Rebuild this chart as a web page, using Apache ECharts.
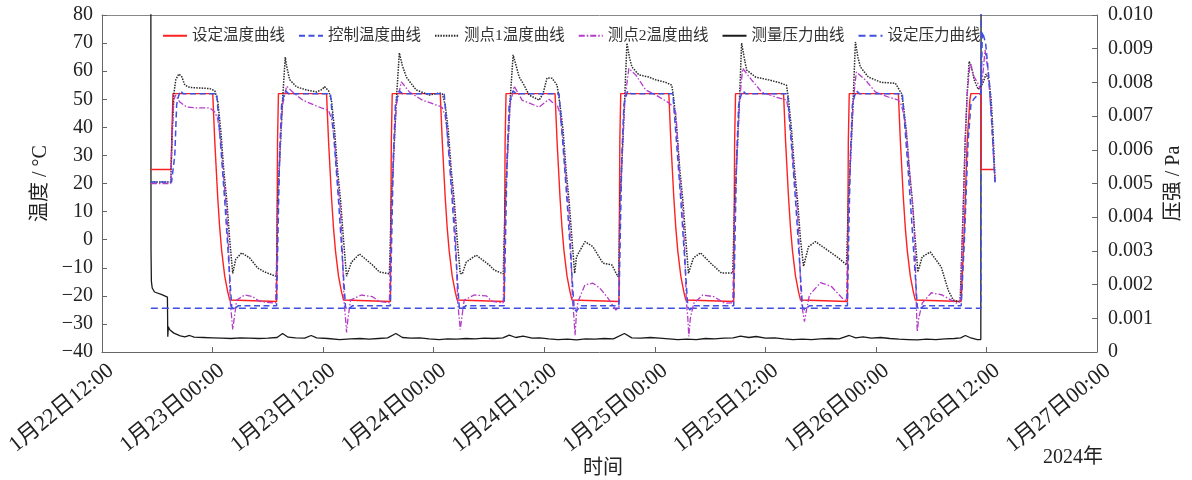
<!DOCTYPE html>
<html><head><meta charset="utf-8">
<script src="https://cdn.jsdelivr.net/npm/echarts@6/dist/echarts.min.js"></script>
<style>html,body{margin:0;padding:0;background:#fff}#c{width:1192px;height:480px}</style>
</head><body><div id="c"></div>
<script>
// x values: hours after 2024-01-22 12:00
const tickLabels = ['1月22日12:00','1月23日00:00','1月23日12:00','1月24日00:00','1月24日12:00','1月25日00:00','1月25日12:00','1月26日00:00','1月26日12:00','1月27日00:00'];

const setTemp = [[5.31,25],[7.5,25],[7.6,40],[7.7,52],
[12.02,52],[12.24,35],[12.40,25],[12.56,15],[12.78,4],[12.99,-4],[13.32,-13],[13.64,-18.5],[13.86,-21.5],[13.97,-22],
[18.95,-22],[19.05,35],[19.15,52],
[24.37,52],[24.59,35],[24.75,25],[24.91,15],[25.13,4],[25.34,-4],[25.67,-13],[25.99,-18.5],[26.21,-21.5],[26.32,-22],
[31.30,-22],[31.40,35],[31.50,52],
[36.71,52],[36.93,35],[37.09,25],[37.25,15],[37.47,4],[37.68,-4],[38.01,-13],[38.33,-18.5],[38.55,-21.5],[38.66,-22],
[43.65,-22],[43.75,35],[43.85,52],
[49.17,52],[49.39,35],[49.55,25],[49.71,15],[49.93,4],[50.14,-4],[50.47,-13],[50.79,-18.5],[51.01,-21.5],[51.12,-22],
[56.10,-22],[56.20,35],[56.30,52],
[61.52,52],[61.74,35],[61.90,25],[62.06,15],[62.28,4],[62.49,-4],[62.82,-13],[63.14,-18.5],[63.36,-21.5],[63.47,-22],
[68.56,-22],[68.66,35],[68.76,52],
[73.97,52],[74.19,35],[74.35,25],[74.51,15],[74.73,4],[74.94,-4],[75.27,-13],[75.59,-18.5],[75.81,-21.5],[75.92,-22],
[80.90,-22],[81.00,35],[81.10,52],
[86.43,52],[86.65,35],[86.81,25],[86.97,15],[87.19,4],[87.40,-4],[87.73,-13],[88.05,-18.5],[88.27,-21.5],[88.38,-22],
[93.25,-22],[93.6,5],[93.9,35],[94.2,50],[94.3,52],[95.40,52],[95.43,25],[96.93,25]];

const ctrlTemp = [[5.31,20.5],[7.55,20.5],[7.9,30],[8.1,48],[8.3,51],[8.5,53],[8.8,52],[12.45,52],
[12.78,38],[13.32,14],[14.08,-24],[14.29,-25],[14.8,-23.5],[18.95,-23.5],
[19.27,30],[19.49,48],[19.71,51],[19.92,53],[20.25,52],[24.80,52],
[25.13,38],[25.67,14],[26.43,-24],[26.64,-25],[27.2,-23.5],[31.30,-23.5],
[31.62,30],[31.84,48],[32.06,51],[32.27,53],[32.6,52],[37.14,52],
[37.47,38],[38.01,14],[38.77,-24],[38.98,-25],[39.5,-23.5],[43.65,-23.5],
[43.97,30],[44.19,48],[44.41,51],[44.62,53],[44.95,52],[49.60,52],
[49.93,38],[50.47,14],[51.23,-24],[51.44,-25.5],[52.0,-23.5],[56.10,-23.5],
[56.42,30],[56.64,48],[56.86,51],[57.07,53],[57.4,52],[61.95,52],
[62.28,38],[62.82,14],[63.58,-24],[63.79,-25],[64.3,-23.5],[68.56,-23.5],
[68.88,30],[69.10,48],[69.32,51],[69.53,53],[69.86,52],[74.40,52],
[74.73,38],[75.27,14],[76.03,-24],[76.24,-25],[76.8,-23.5],[80.90,-23.5],
[81.22,30],[81.44,48],[81.66,51],[81.87,53],[82.2,52],[86.86,52],
[87.19,38],[87.73,14],[88.49,-24],[88.70,-25],[89.2,-23.5],[93.25,-23.5],
[93.6,0],[94.0,35],[94.3,48],[94.6,50],[95.0,51.5],[95.40,52],[95.55,74],[95.9,70],[96.3,56],[96.6,40],[96.93,20]];

const probe1Temp = [[5.31,20.5],[7.47,20.5],[7.58,35],[7.80,52],[8.01,57],[8.34,59],[8.66,58],[8.99,55],[9.53,54.2],[10.61,54],[11.70,53.8],[12.24,53],[12.56,49.5],[12.89,39],[13.21,25],[13.54,14],[13.86,0],[14.19,-12],
[14.51,-7],[15.16,-4.7],[16.03,-6.5],[16.89,-10.1],[17.65,-11.5],[18.84,-13],
[18.95,-12],[19.06,14],[19.38,35],[19.60,50],[19.89,65],[20.03,62],[20.36,57],[20.79,55.5],[21.12,54.4],[22.20,53.3],[23.28,52.6],[23.90,53.5],[24.15,54.5],
[24.59,53],[24.91,49.5],[25.24,39],[25.56,25],[25.89,14],[26.21,0],[26.54,-13],
[27.08,-8],[27.94,-5.1],[29.35,-9],[30.11,-11.5],[31.19,-12.2],
[31.30,-12],[31.41,14],[31.73,35],[31.95,50],[32.27,66.5],[32.60,62],[33.03,57.9],[33.57,55.5],[34.11,53.3],[35.52,51.5],[36.61,52.2],
[36.93,52],[37.25,48],[37.58,39],[37.90,25],[38.23,14],[38.55,0],[38.88,-12],
[39.10,-12.2],[39.53,-8],[40.61,-5.5],[42.02,-9],[42.56,-10.8],[43.55,-12.2],
[43.65,-12],[43.76,14],[44.08,35],[44.30,50],[44.62,65.8],[44.94,62],[45.27,58],[45.81,55],[46.35,51.5],[47.44,49.7],[47.87,52],[48.30,57.6],[48.84,57.5],
[49.39,55],[49.71,48],[50.04,39],[50.36,25],[50.69,14],[51.01,0],[51.30,-12],
[51.50,-6.1],[52.42,-0.7],[53.28,-2.5],[53.83,-5.5],[54.37,-8.4],[55.34,-9],[55.99,-13.2],
[56.10,-12],[56.21,14],[56.53,35],[56.75,52],[56.97,70],[57.24,65],[57.51,61.5],[58.27,58.7],[59.35,57.9],[60.11,56.9],[61.19,56],[61.84,55],
[62.06,50],[62.39,39],[62.71,25],[63.04,14],[63.36,0],[63.65,-12],
[64.19,-6.5],[64.96,-4.7],[66.04,-8.3],[67.23,-11.9],[68.45,-11.9],
[68.56,-12],[68.67,14],[68.99,35],[69.21,52],[69.42,70],[69.69,65],[69.96,60.4],[70.94,57.9],[72.34,56.9],[73.43,56],[74.29,55],
[74.51,50],[74.84,39],[75.16,25],[75.49,14],[75.81,0],[76.14,-9.5],
[76.68,-2.5],[77.43,-0.7],[78.73,-3.7],[79.93,-6.5],[80.80,-9],
[80.90,-9],[81.01,14],[81.33,35],[81.55,52],[81.77,70.4],[82.04,65],[82.31,61.5],[83.17,57.9],[84.58,56],[86.10,55.7],[86.75,52.2],
[86.97,48],[87.29,39],[87.61,25],[87.94,14],[88.26,0],[88.55,-11.5],
[89.02,-6.1],[89.89,-4.4],[91.08,-9.7],[91.84,-18],[92.38,-21.5],[93.14,-22.2],
[93.25,-22],[93.46,10],[93.68,35],[93.90,52],[94.11,63.5],[94.33,62],[94.65,57],[95.09,53.5],[95.41,54.5],[95.63,56],[95.95,59],[96.28,56.5],[96.50,50],[96.71,38],[96.93,21]];

const probe2Temp = [[5.31,20],[7.47,20],[7.58,35],[7.80,50],[8.01,51.5],[8.23,50],[8.45,49],[9.21,47.2],[10.29,46.9],[11.70,46.9],[12.24,45.5],[12.56,43],[12.89,35],[13.21,22],[13.54,10],[13.76,-5],[13.92,-22],[14.08,-28],[14.19,-32],[14.35,-28],[14.62,-21.5],[15.49,-19.7],[16.35,-20.3],[17.11,-22],[18.52,-22.5],[18.84,-22.5],
[18.95,-22.5],[19.06,10],[19.38,35],[19.60,48],[20.04,54.7],[20.69,52.6],[21.77,49.7],[23.28,47.6],[24.15,46.5],
[24.59,46],[24.91,43],[25.24,35],[25.56,22],[25.89,10],[26.10,-5],[26.27,-22],[26.43,-28],[26.54,-33],[26.70,-28],[26.97,-21.5],
[28.16,-19.7],[29.35,-20.3],[30.11,-22],[31.19,-22.5],
[31.30,-22.5],[31.41,10],[31.73,35],[31.95,48],[32.49,56.2],[33.36,52.6],[34.76,49.7],[36.61,47.6],
[36.93,47],[37.25,44],[37.58,35],[37.90,22],[38.23,10],[38.44,-5],[38.60,-22],[38.77,-28],[38.88,-32],[39.04,-28],[39.31,-21.5],
[40.40,-19.7],[41.70,-20],[42.35,-22],[43.54,-22.5],
[43.65,-22.5],[43.76,10],[44.08,35],[44.30,48],[44.73,54.7],[45.59,49.7],[47.44,47.2],[48.52,50],[48.84,49],
[49.39,48],[49.71,45],[50.04,35],[50.36,22],[50.69,10],[50.90,-5],[51.07,-22],[51.23,-28],[51.34,-34],[51.50,-26],[51.66,-22],
[52.42,-16.1],[53.28,-15.5],[54.04,-17.3],[54.80,-20.3],[55.45,-23.5],[55.77,-25.1],
[56.10,-24],[56.21,10],[56.53,35],[56.75,50],[57.18,61],[57.94,58.6],[59.02,53.3],[60.11,51.5],[61.52,48.7],[62.06,47.2],
[62.28,45],[62.49,35],[62.71,22],[63.04,10],[63.26,-5],[63.42,-22],[63.58,-28],[63.69,-34.5],[63.85,-28],[64.23,-22.6],
[65.20,-19.7],[66.40,-20.3],[67.58,-22.6],[68.45,-22.5],
[68.56,-22.5],[68.67,10],[68.99,35],[69.21,50],[69.53,61],[70.50,56.9],[71.59,52.6],[73.10,50.8],[74.29,49.7],
[74.51,46],[74.84,35],[75.16,22],[75.49,10],[75.70,-5],[75.86,-20],[76.03,-25],[76.24,-29.2],[76.46,-25],[76.78,-19.7],
[77.98,-15.3],[79.17,-16.7],[80.36,-20.9],[80.80,-21.8],
[80.90,-22],[81.01,10],[81.33,35],[81.55,50],[81.87,59.7],[82.85,56.9],[83.93,52.6],[85.34,50.8],[86.43,49.7],
[86.75,48],[87.07,44],[87.40,35],[87.72,22],[88.05,10],[88.26,-5],[88.37,-22],[88.43,-28],[88.48,-32.8],[88.64,-28],[89.02,-22.6],
[90.00,-18.9],[91.19,-19.7],[92.70,-22.6],[93.14,-22],
[93.25,-22],[93.46,10],[93.68,35],[93.90,52],[94.22,62.9],[94.65,58],[95.09,55.5],[95.41,53],[95.63,60],[95.84,67.5],[96.17,60],[96.50,45],[96.71,32],[96.93,20]];

const measPressure = [[5.30,0.012],[5.32,0.0030],[5.36,0.0021],[5.45,0.0019],[5.7,0.00178],[6.5,0.00170],[7.10,0.00163],[7.14,0.00045],[7.20,0.00075],[7.35,0.00066],
[7.8,0.00056],[8.5,0.00048],[9.0,0.00045],[9.5,0.00049],[10.0,0.00044],[11.0,0.00043],[12.0,0.00042],[13.0,0.00041],[14.0,0.00040],[15.0,0.00042],[16.0,0.00041],[17.0,0.00040],[18.0,0.00041],[19.0,0.00043],[19.6,0.00055],[20.2,0.00044],[21.0,0.00042],[22.0,0.00041],[22.7,0.00049],[23.3,0.00042],[24.5,0.00040],[25.8,0.00037],[27.0,0.00039],[28.0,0.00040],[29.0,0.00038],[30.0,0.00040],[31.0,0.00042],[31.9,0.00055],[32.6,0.00043],[33.5,0.00041],[34.5,0.00042],[35.5,0.00039],[36.6,0.00037],[37.5,0.00039],[38.5,0.00038],[39.5,0.00040],[40.5,0.00039],[41.5,0.00041],[42.5,0.00040],[43.5,0.00042],[44.2,0.00050],[44.9,0.00043],[45.7,0.00047],[46.7,0.00041],[47.5,0.00042],[48.5,0.00039],[49.5,0.00037],[50.5,0.00038],[51.5,0.00036],[52.5,0.00039],[53.5,0.00038],[54.5,0.00040],[55.5,0.00039],[56.7,0.00055],[57.5,0.00042],[58.5,0.00041],[59.5,0.00043],[60.5,0.00041],[61.5,0.00039],[62.5,0.00037],[63.5,0.00038],[64.5,0.00037],[65.5,0.00040],[66.5,0.00039],[67.5,0.00041],[68.5,0.00042],[69.3,0.00047],[70.2,0.00043],[71.0,0.00046],[72.0,0.00041],[73.0,0.00042],[74.0,0.00039],[75.0,0.00037],[76.0,0.00038],[77.0,0.00037],[78.0,0.00039],[79.0,0.00040],[80.0,0.00039],[81.1,0.00049],[81.8,0.00042],[82.6,0.00045],[83.5,0.00041],[84.5,0.00043],[85.5,0.00040],[86.5,0.00038],[87.5,0.00037],[88.5,0.00036],[89.5,0.00038],[90.5,0.00037],[91.5,0.00039],[92.5,0.00040],[93.2,0.00042],[93.7,0.00049],[94.2,0.00043],[95.0,0.00037],[95.38,0.00037],[95.41,0.012]];

const setPressure = [[5.30,0.0013],[95.40,0.0013],[95.42,0.012]];

const FONT = "'Liberation Serif','Noto Sans CJK SC',serif";
const AX = '#666';
const TXT = '#222';
const chart = echarts.init(document.getElementById('c'), null, {renderer:'canvas'});
const lineSeries = (name, data, color, type, width, yIdx, z) => ({
  name, type:'line', data, xAxisIndex:0, yAxisIndex:yIdx, symbol:'none', showSymbol:false,
  lineStyle:{color, width, type}, itemStyle:{color}, z, animation:false, clip:true
});
chart.setOption({
  backgroundColor:'#fff',
  animation:false,
  grid:[{left:102, right:93, top:15, bottom:128},
        {left:111, right:84, top:15, bottom:128}],
  legend:{
    data:['设定温度曲线','控制温度曲线','测点1温度曲线','测点2温度曲线','测量压力曲线','设定压力曲线'],
    left:157, top:23, itemWidth:24, itemHeight:12, itemGap:13,
    itemStyle:{opacity:0},
    textStyle:{fontFamily:FONT, fontSize:15.5, color:'#333'}
  },
  xAxis:[
    {type:'value', gridIndex:0, min:0, max:108, interval:12, position:'bottom',
     axisLine:{onZero:false, lineStyle:{color:AX}}, axisTick:{inside:true, length:5, lineStyle:{color:AX}},
     axisLabel:{show:false}, splitLine:{show:false}},
    {type:'value', gridIndex:1, min:0, max:108, interval:12,
     axisLine:{show:false, onZero:false}, axisTick:{show:false}, splitLine:{show:false},
     axisLabel:{rotate:39, margin:16, fontFamily:FONT, fontSize:22, color:TXT,
       formatter:v => tickLabels[Math.round(v/12)]}},
    {type:'value', gridIndex:0, min:0, max:108, position:'top',
     axisLine:{show:true, onZero:false, lineStyle:{color:'#888'}}, axisTick:{show:false},
     axisLabel:{show:false}, splitLine:{show:false}}
  ],
  yAxis:[
    {type:'value', gridIndex:0, min:-40, max:80, interval:10, position:'left',
     name:'温度 / °C', nameLocation:'middle', nameGap:47, nameRotate:90,
     nameTextStyle:{fontFamily:FONT, fontSize:20, color:TXT},
     axisLine:{show:true, onZero:false, lineStyle:{color:AX}}, axisTick:{inside:true, length:5, lineStyle:{color:AX}},
     axisLabel:{margin:9, fontFamily:FONT, fontSize:20, color:TXT, formatter:v => String(v).replace('-','\u2212')},
     splitLine:{show:false}},
    {type:'value', gridIndex:0, min:0, max:0.01, interval:0.001, position:'right',
     name:'压强 / Pa', nameLocation:'middle', nameGap:66, nameRotate:90,
     nameTextStyle:{fontFamily:FONT, fontSize:20, color:TXT},
     axisLine:{show:true, onZero:false, lineStyle:{color:AX}}, axisTick:{inside:true, length:5, lineStyle:{color:AX}},
     axisLabel:{margin:11, fontFamily:FONT, fontSize:20, color:TXT, formatter:v => v === 0 ? '0' : v.toFixed(3)},
     splitLine:{show:false}},
    {type:'value', gridIndex:1, min:0, max:1, show:false}
  ],
  graphic:[
    {type:'text', left:583, top:456, style:{text:'时间', font:"20px 'Noto Sans CJK SC'", fill:TXT}},
    {type:'text', right:89, top:448, style:{text:'2024年', font:"20px 'Liberation Serif','Noto Sans CJK SC'", fill:TXT}}
  ],
  series:[
    lineSeries('测量压力曲线', measPressure, '#1a1a1a', 'solid', 1.3, 1, 1),
    lineSeries('设定压力曲线', setPressure, '#3f4fe0', [7,4], 1.4, 1, 2),
    lineSeries('设定温度曲线', setTemp, '#ff2020', 'solid', 1.4, 0, 3),
    lineSeries('测点1温度曲线', probe1Temp, '#2a2a2a', [1.5,1.2], 1.5, 0, 4),
    lineSeries('测点2温度曲线', probe2Temp, '#b43cc8', [6,2,1.5,2], 1.3, 0, 5),
    lineSeries('控制温度曲线', ctrlTemp, '#3f4fe0', [6,3.5], 1.5, 0, 6)
  ]
});
</script></body></html>
